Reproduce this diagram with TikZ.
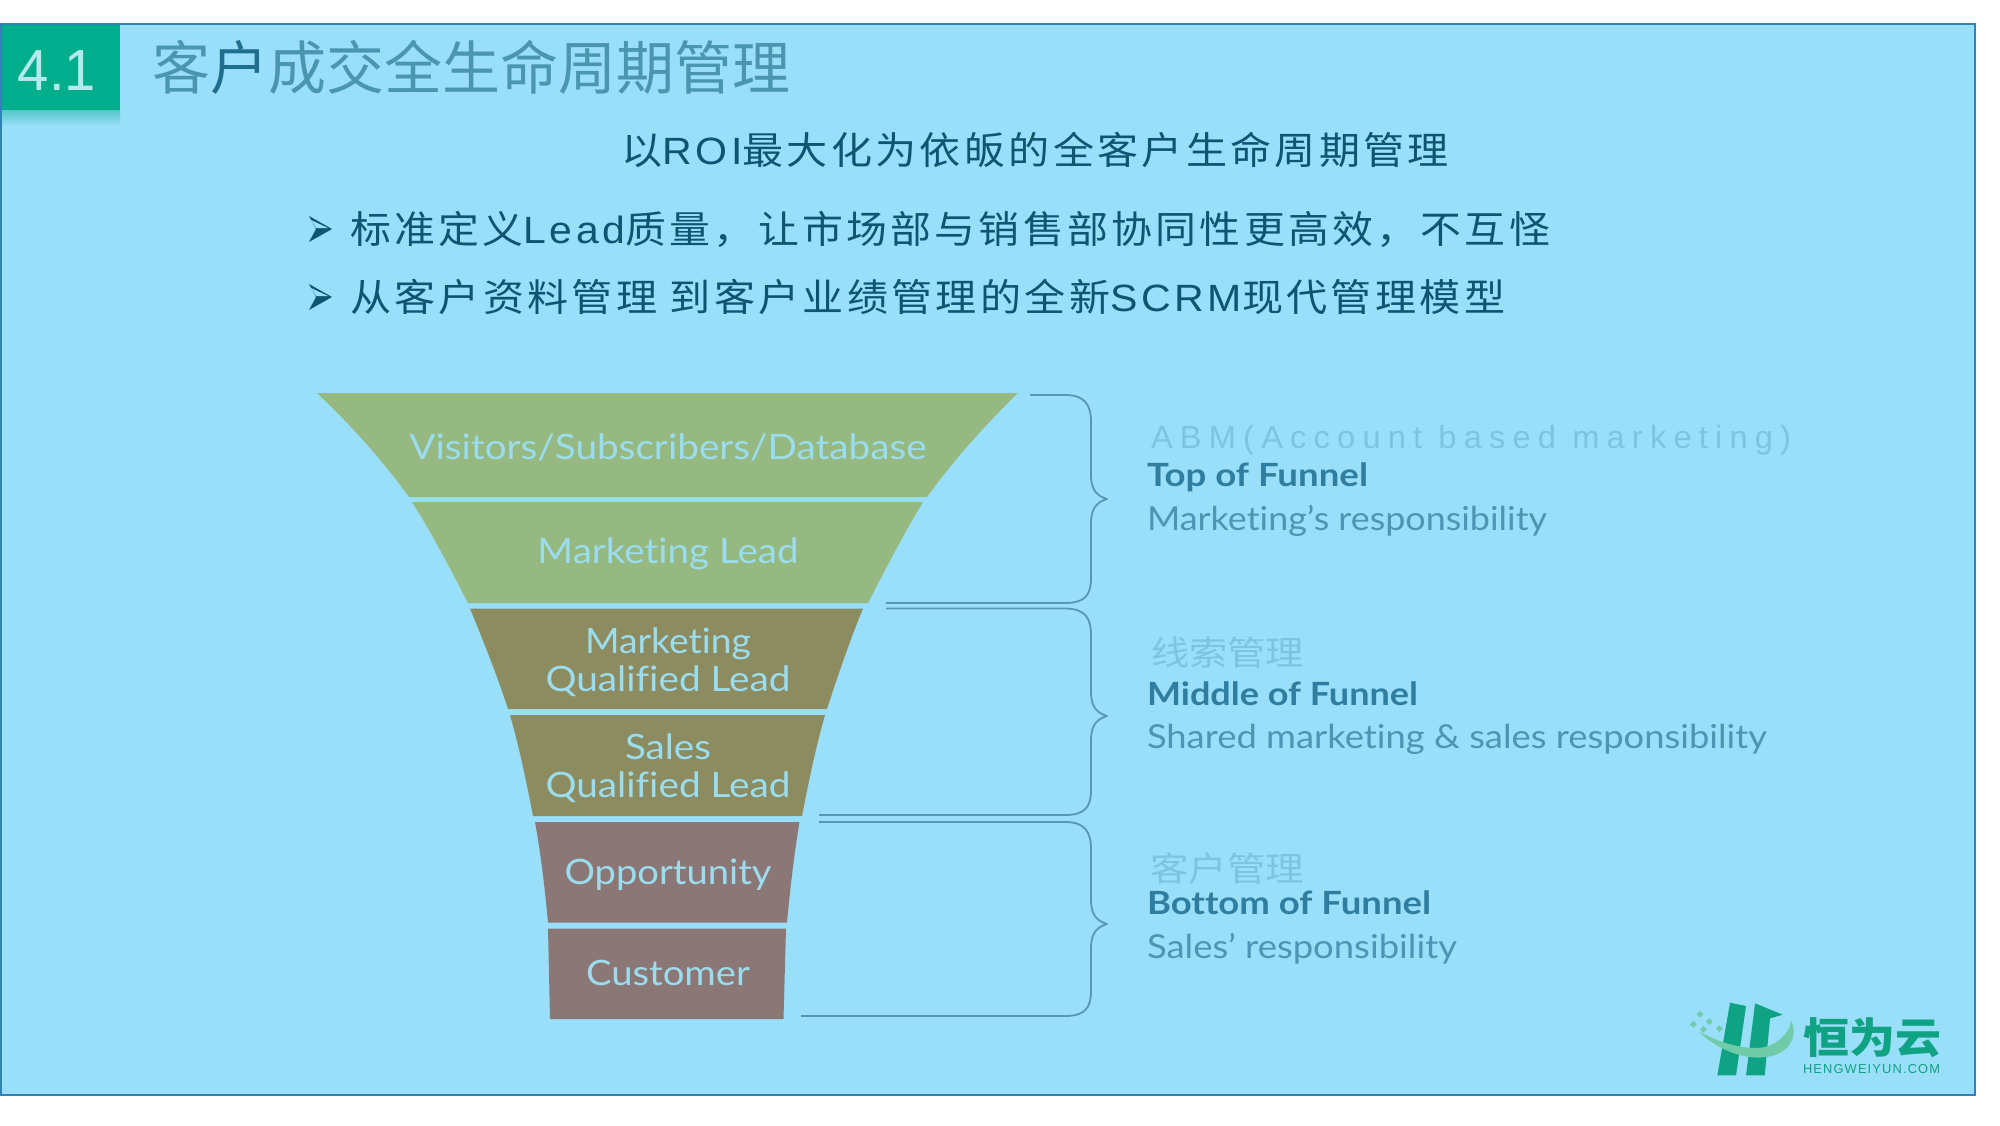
\documentclass[tikz,border=0pt]{standalone}
\usepackage{fontspec}
\usepackage{graphicx}
\setmainfont[Ligatures=CommonOff]{Lato}
\newfontfamily\cjk{Noto Sans CJK SC}
\newfontfamily\cjksp[LetterSpace=8]{Noto Sans CJK SC}
\newfontfamily\lat{Liberation Sans}
\newfontfamily\latsp[LetterSpace=22]{Liberation Sans}
\newfontfamily\latsb[LetterSpace=9]{Liberation Sans}
\usetikzlibrary{calc}
\definecolor{bgblue}{HTML}{99DFF9}
\definecolor{frameblue}{HTML}{2F82B5}
\definecolor{teal1}{HTML}{00AD8C}
\definecolor{numc}{HTML}{B5E9EE}
\definecolor{titlec}{HTML}{4A96B2}
\definecolor{titled}{HTML}{1F6E8E}
\definecolor{inkd}{HTML}{0F5570}
\definecolor{greenf}{HTML}{95B981}
\definecolor{olivef}{HTML}{8C8C60}
\definecolor{brownf}{HTML}{8C7777}
\definecolor{labelf}{HTML}{9BDDEE}
\definecolor{bracec}{HTML}{5597B7}
\definecolor{boldc}{HTML}{2F7EA0}
\definecolor{thinc}{HTML}{4C95B4}
\definecolor{faintc}{HTML}{7DC4DE}
\definecolor{logod}{HTML}{0FA283}
\definecolor{logol}{HTML}{6FCBA8}
\newcommand{\fitw}[2]{\resizebox{\dimexpr #1pt/2\relax}{\height}{#2}}
\newcommand{\fs}[1]{\fontsize{#1}{#1}\selectfont}
\newcommand{\lt}[1]{{\latsb #1}}
\tikzset{
  txt/.style={inner sep=0pt,outer sep=0pt},
  tier/.style={fill=#1,draw=none},
  flabel/.style={txt,text=labelf,align=center,font=\fs{17.5}},
  brace/.style={draw=bracec,line width=0.9pt,line join=round},
  head/.style={txt,anchor=base west,text=boldc,font=\fs{16}\bfseries},
  sub/.style={txt,anchor=base west,text=thinc,font=\fs{16.5}},
  faint/.style={txt,anchor=base west,text=faintc},
  bul/.style={fill=inkd,draw=none},
}
\begin{document}
\begin{tikzpicture}[x=0.5pt,y=-0.5pt]
\useasboundingbox (0,0) rectangle (2000,1125);
\fill[white] (0,0) rectangle (2000,1125);
\fill[bgblue] (0,24) rectangle (1975,1095);
\shade[top color=teal1!45!bgblue,bottom color=bgblue] (0,110) rectangle (120,126);
\fill[teal1] (0,24) rectangle (120,110);
\draw[frameblue,line width=1pt] (0.5,24) rectangle (1975,1095);
\node[txt,anchor=base west,text=numc] (num) at (18,90) {\lat\fs{29}\fitw{78}{4.1}};
\node[txt,anchor=base west,text=titlec] (title) at (152,89)
  {\fitw{638}{\cjk\fs{29}客\textcolor{titled}{户}成交全生命周期管理}};
\node[txt,anchor=base west,text=inkd] (subt) at (621,164)
  {\fitw{828}{\cjksp\fs{19}以\lt{ROI}最大化为依皈的全客户生命周期管理}};
\node[txt,anchor=base west,text=inkd] (l1) at (350,243)
  {\fitw{1200}{\cjksp\fs{19}标准定义\lt{Lead}质量，让市场部与销售部协同性更高效，不互怪}};
\node[txt,anchor=base west,text=inkd] (l2) at (350,311)
  {\fitw{1155}{\cjksp\fs{19}从客户资料管理 到客户业绩管理的全新\lt{SCRM}现代管理模型}};
% bullets
\foreach \yy/\nm in {229/b1,297/b2}{
  \coordinate (\nm) at (320,\yy);
  \fill[bul] ($(\nm)+(-11,-13)$) -- ($(\nm)+(12,0)$) -- ($(\nm)+(-11,13)$) -- ($(\nm)+(-4,0)$) -- cycle;
  \fill[bgblue] ($(\nm)+(-9,-9)$) -- ($(\nm)+(8,-1)$) -- ($(\nm)+(-4,-1)$) -- cycle;
}
% funnel
\path[tier=greenf] (317,393) -- (1018,393) .. controls (980,430) and (950,465) .. (927,497) -- (409,497) .. controls (386,465) and (356,430) .. (317,393) -- cycle;
\path[tier=greenf] (412,502) -- (923,502) .. controls (903,535) and (885,570) .. (868,603) -- (468,603) .. controls (451,570) and (433,535) .. (412,502) -- cycle;
\path[tier=olivef] (470,608.5) -- (863,608.5) .. controls (850,640) and (838,675) .. (827,709) -- (508,709) .. controls (497,675) and (483,640) .. (470,608.5) -- cycle;
\path[tier=olivef] (510,715) -- (825,715) .. controls (815,750) and (808,785) .. (802,816) -- (533,816) .. controls (527,785) and (520,750) .. (510,715) -- cycle;
\path[tier=brownf] (535,822) -- (799.5,822) .. controls (794,855) and (790,890) .. (787,922.5) -- (548,922.5) .. controls (545,890) and (541,855) .. (535,822) -- cycle;
\path[tier=brownf] (548,928.5) -- (786,928.5) -- (783.5,1019) -- (550,1019) -- cycle;
\node[flabel] (n1) at (668,447) {\fitw{517}{Visitors/Subscribers/Database}};
\node[flabel] (n2) at (668,554) {\fitw{261}{Marketing Lead}};
\node[flabel] (n3) at (668,662) {\fitw{166}{Marketing}\\[1.6pt]\fitw{245}{Qualified Lead}};
\node[flabel] (n4) at (668,768) {\fitw{86}{Sales}\\[1.6pt]\fitw{245}{Qualified Lead}};
\node[flabel] (n5) at (668,875) {\fitw{207}{Opportunity}};
\node[flabel] (n6) at (668,973) {\fitw{164}{Customer}};
% braces
\draw[brace] (1030,395) -- (1065,395) .. controls (1085,395) and (1091,405) .. (1091,422) -- (1091,475) .. controls (1091,490) and (1097,496) .. (1107,499) .. controls (1097,502) and (1091,508) .. (1091,523) -- (1091,578) .. controls (1091,595) and (1085,603) .. (1065,603) -- (886,603);
\draw[brace] (886,608.5) -- (1065,608.5) .. controls (1085,608.5) and (1091,618) .. (1091,635) -- (1091,692) .. controls (1091,707) and (1097,713) .. (1107,716) .. controls (1097,719) and (1091,725) .. (1091,740) -- (1091,790) .. controls (1091,807) and (1085,815) .. (1065,815) -- (819,815);
\draw[brace] (819,822) -- (1065,822) .. controls (1085,822) and (1091,832) .. (1091,849) -- (1091,900) .. controls (1091,915) and (1097,921) .. (1107,924) .. controls (1097,927) and (1091,933) .. (1091,948) -- (1091,991) .. controls (1091,1008) and (1085,1016) .. (1065,1016) -- (801,1016);
% right texts
\node[faint] (a1) at (1151,448) {\fitw{640}{\latsp\fs{16}ABM(Account based marketing)}};
\node[head] (h1) at (1147,486.5) {\fitw{221}{Top of Funnel}};
\node[sub] (s1) at (1147,530) {\fitw{400}{Marketing’s responsibility}};
\node[faint] (a2) at (1151,665) {\fitw{153}{\cjk\fs{17}线索管理}};
\node[head] (h2) at (1147,705) {\fitw{271}{Middle of Funnel}};
\node[sub] (s2) at (1147,748.5) {\fitw{620}{Shared marketing \& sales responsibility}};
\node[faint] (a3) at (1150,881) {\fitw{154}{\cjk\fs{17}客户管理}};
\node[head] (h3) at (1147,914) {\fitw{284}{Bottom of Funnel}};
\node[sub] (s3) at (1147,958) {\fitw{310}{Sales’ responsibility}};
% logo
\begin{scope}[shift={(1660,970)},x=0.1667pt,y=-0.1667pt]
\fill[logod] (210,98) -- (258,108) -- (228,316) -- (172,316) -- cycle;
\fill[logod] (285,100) -- (368,134) -- (330,145) -- (314,316) -- (258,316) -- cycle;
\fill[logol] (118,185) .. controls (190,225) and (300,255) .. (350,215) .. controls (378,195) and (392,175) .. (392,150) .. controls (412,185) and (400,235) .. (345,255) .. controls (270,280) and (170,240) .. (118,185) -- cycle;
\foreach \cx/\cy in {110/133,90/163,138/155,120/178,168/176}{
  \fill[logol] (\cx,\cy) -- +(10,-10) -- +(20,0) -- +(10,10) -- cycle;
}
\end{scope}
\node[txt,anchor=base west,text=logod] (lg) at (1803,1053) {\fitw{138}{\cjk\fs{21}\bfseries 恒为云}};
\node[txt,anchor=base west,text=logod] (lc) at (1803,1073) {\fitw{137}{\latsb\fs{6.5}HENGWEIYUN.COM}};
\end{tikzpicture}
\end{document}
